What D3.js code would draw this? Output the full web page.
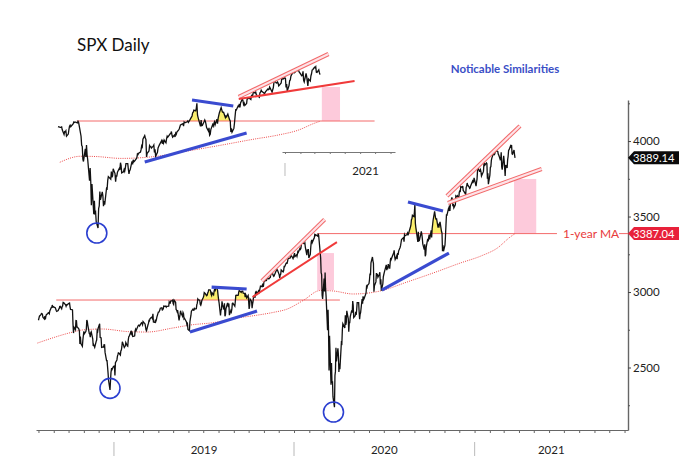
<!DOCTYPE html>
<html><head><meta charset="utf-8">
<script src="https://cdn.jsdelivr.net/npm/d3@7"></script>
<style>body{margin:0;background:#fff}svg{display:block;font-family:Lato,"Liberation Sans",sans-serif}</style>
</head><body><svg id="c" width="680" height="471"></svg>
<script>
// ---------------- DATA ----------------
const holidays = ["2018-09-03","2018-11-22","2018-12-05","2018-12-25","2019-01-01","2019-01-21","2019-02-18","2019-04-19","2019-05-27","2019-07-04","2019-09-02","2019-11-28","2019-12-25","2020-01-01","2020-01-20","2020-02-17","2020-04-10","2020-05-25","2020-07-03","2020-09-07","2020-11-26","2020-12-25","2021-01-01","2021-01-18","2021-02-15"];
const firstTradingDay = "2018-08-01";

// SPX daily closes (Aug 2018 .. Dec 2018)
const closes2018 = [
 2813,2827,2840,2850,2858,2857,2853,2833,2821,2840,2818,2840,2850,2857,2863,2861,2856,2875,2897,2898,2914,2901,2902,
 2896,2888,2878,2872,2877,2888,2889,2904,2905,2889,2904,2908,2931,2930,2919,2916,2906,2915,2914,
 2924,2923,2926,2902,2885,2884,2881,2786,2728,2767,2751,2810,2809,2768,2768,2755,2740,2656,2705,2659,2641,2682,2712,
 2740,2723,2738,2755,2814,2806,2781,2726,2722,2701,2730,2736,2690,2642,2650,2633,2673,2682,2744,2738,2760,
 2790,2700,2696,2633,2637,2636,2651,2650,2600,2546,2546,2507,2467,2417,2351,2468,2489,2486,2507];
const closes2019 = [
 2510,2448,2532,2550,2574,2585,2597,2596,2583,2610,2616,2636,2671,2633,2638,2642,2665,2644,2641,2681,2704,
 2707,2734,2724,2737,2731,2706,2708,2710,2744,2754,2745,2776,2780,2780,2775,2792,2796,2793,2784,
 2804,2792,2789,2771,2749,2743,2783,2792,2811,2809,2822,2833,2832,2825,2855,2801,2798,2818,2806,2815,2834,
 2867,2867,2873,2880,2893,2896,2878,2888,2888,2907,2905,2907,2900,2905,2907,2934,2927,2926,2940,2943,2946,
 2924,2918,2946,2932,2884,2880,2870,2881,2812,2834,2850,2876,2860,2840,2864,2856,2822,2826,2802,2783,2789,2752,
 2744,2803,2826,2843,2873,2886,2880,2879,2891,2887,2890,2917,2926,2954,2950,2945,2918,2913,2924,2942,
 2964,2973,2996,2990,2976,2979,2993,3000,3014,3014,3004,2985,2977,2995,2981,3005,3019,3004,3026,3021,3013,2980,
 2953,2932,2845,2882,2884,2938,2918,2883,2926,2840,2848,2889,2924,2924,2900,2923,2847,2878,2869,2887,2924,2926,
 2906,2937,2977,2979,2978,2979,3000,3010,3007,2998,3005,3006,3006,2992,2991,2966,2984,2977,2962,2977,
 2940,2888,2910,2953,2939,2893,2919,2938,2970,2966,2996,2990,2998,2986,3007,2996,3005,3023,3039,3036,3047,3037,3038,
 3067,3078,3075,3076,3085,3093,3087,3091,3094,3097,3120,3122,3120,3108,3104,3110,3134,3141,3153,3141,
 3114,3093,3113,3118,3146,3136,3133,3142,3169,3168,3191,3192,3191,3205,3221,3224,3224,3240,3240,3221,3231];
const closes2020 = [
 3258,3235,3246,3237,3253,3275,3266,3289,3283,3289,3317,3330,3321,3321,3326,3295,3244,3276,3273,3284,3226,
 3249,3298,3334,3345,3328,3352,3358,3379,3374,3380,3370,3386,3373,3338,3226,3128,3116,2979,2954,
 3090,3003,3130,3024,2972,2747,2882,2741,2481,2711,2386,2529,2398,2409,2305,2237,2447,2476,2630,2541,2627,2585,
 2471,2527,2489,2664,2659,2750,2790,2762,2846,2783,2800,2875,2823,2737,2799,2798,2837,2878,2863,2940,2912,
 2831,2843,2868,2848,2881,2930,2930,2870,2820,2853,2864,2954,2923,2972,2949,2955,2992,3036,3030,3044,
 3056,3081,3123,3112,3194,3232,3207,3190,3002,3041,3067,3125,3113,3115,3098,3118,3131,3050,3084,3009,3053,3100,
 3116,3130,3180,3145,3170,3152,3185,3155,3198,3227,3216,3225,3252,3257,3276,3236,3216,3239,3218,3258,3246,3271,
 3295,3307,3328,3349,3351,3360,3334,3380,3373,3373,3382,3390,3375,3386,3397,3431,3444,3479,3485,3508,3500,
 3527,3581,3455,3427,3332,3399,3339,3341,3384,3401,3385,3357,3319,3281,3316,3237,3247,3298,3352,3335,3363,
 3381,3348,3409,3361,3419,3447,3477,3534,3512,3489,3483,3484,3427,3443,3436,3453,3465,3401,3391,3271,3310,3270,
 3310,3369,3443,3510,3509,3551,3546,3573,3537,3585,3627,3610,3568,3582,3558,3578,3635,3630,3638,3622,
 3662,3669,3667,3699,3692,3702,3673,3668,3663,3647,3695,3701,3722,3709,3695,3687,3690,3703,3735,3727,3732,3756];
const closes2021 = [
 3701,3727,3748,3804,3825,3800,3801,3810,3796,3768,3799,3852,3853,3841,3855,3850,3751,3787,3714,
 3774,3826,3830,3872,3887,3916,3911,3910,3916,3935,3933,3931,3914,3907,3877,3881,3925,3829,3811,
 3902,3870,3820,3768,3842,3821,3875,3899,3939,3943,3969,3963,3974,3915,3913,3941,3911,3889.14];

// 1-year moving average
const maDates  = ["2018-07-30","2018-10-10","2018-10-28","2018-12-08","2019-02-02","2019-03-09","2019-05-01","2019-06-04","2019-07-29","2019-08-24","2019-10-15","2019-11-20","2019-12-18","2020-01-20","2020-02-23","2020-03-20","2020-04-30","2020-06-24","2020-08-17","2020-10-09","2020-12-03","2021-01-15","2021-02-16","2021-03-14","2021-03-24"];
const maValues = [2662,2735,2748,2755,2737,2735,2762,2781,2801,2820,2845,2865,2887,2945,3010,3007,2987,3007,3066,3126,3192,3240,3291,3364,3387.04];

const lastPrice = 3889.14;
const maLast = 3387.04;
const yTicksMajor = [2500, 3000, 3500, 4000];
const yTicksMinor = [2250, 2750, 3250, 3750, 4250];
const yearLabels = ["2019", "2020", "2021"];
const titleText = "SPX Daily";
const noteText = "Noticable Similarities";
const maLabel = "1-year MA";
const insetYear = "2021";

// annotations (data space: date, value)
const lowerHLines = [["2018-09-06", 2947, "2020-04-03", 2947], ["2020-02-17", 3387.04, "2021-06-17", 3387.04]];
const lowerBlue = [["2019-06-04", 2735, "2019-10-18", 2874], ["2019-07-18", 3033, "2019-09-27", 3020],
                   ["2020-06-27", 3013, "2020-11-10", 3258], ["2020-08-19", 3596, "2020-10-29", 3537]];
const lowerRedSolid = [["2019-10-09", 2967, "2020-03-28", 3331]];
const lowerRedDouble = [["2019-10-28", 3073, "2020-03-03", 3480], ["2020-11-06", 3636, "2021-04-03", 4100], ["2020-11-08", 3590, "2021-05-17", 3815]];
const lowerPink = [["2020-02-17", 3258, "2020-03-22", 3013], ["2021-03-22", 3749, "2021-05-06", 3387]];
const lowerCircles = [["2018-12-24", 2362], ["2020-03-21", 2205]];
const lowerYellow = [["2019-06-27", "2019-08-01", 2947], ["2019-09-01", "2019-09-30", 2947],
                     ["2020-08-19", "2020-09-16", 3387.04], ["2020-10-05", "2020-10-28", 3387.04]];

const upperStart = "2020-01-17";
const upperHLines = [["2020-02-17", 3390, "2021-06-22", 3390]];
const upperBlue = [["2020-06-08", 2948, "2020-11-23", 3261], ["2020-08-25", 3616, "2020-11-01", 3552]];
const upperRedSolid = [["2020-11-10", 3627, "2021-05-20", 3821]];
const upperRedDouble = [["2020-11-10", 3649, "2021-04-07", 4112]];
const upperPink = [["2021-03-27", 3756, "2021-04-26", 3390]];
const upperCircles = [["2020-03-21", 2183]];
const upperYellow = [["2020-08-19", "2020-09-16", 3390], ["2020-10-05", "2020-10-28", 3390]];

// ---------------- BUILD ----------------
const parse = d3.timeParse("%Y-%m-%d");
const fmt = d3.timeFormat("%Y-%m-%d");
const hol = new Set(holidays);
const allCloses = closes2018.concat(closes2019, closes2020, closes2021);
const series = [];
{
  let d = parse(firstTradingDay), i = 0;
  while (i < allCloses.length) {
    const wd = d.getDay();
    if (wd !== 0 && wd !== 6 && !hol.has(fmt(d))) { series.push({date: new Date(d), close: allCloses[i]}); i++; }
    d = d3.timeDay.offset(d, 1);
  }
}
const ma = maDates.map((d, i) => ({date: parse(d), v: maValues[i]}));

const svg = d3.select("#c");
const x = d3.scaleTime().domain([parse("2018-07-27"), parse("2021-11-08")]).range([36, 628]);
const y = d3.scaleLinear().domain([2086, 4272]).range([430, 100]);
const xU = d3.scaleTime().domain([parse("2020-01-17"), parse("2021-03-24")]).range([58, 320]);
const yU = d3.scaleLinear().domain([2237, 3390]).range([228, 121]);
const xF = d3.scaleTime().domain([parse("2020-12-26"), parse("2021-08-10")]).range([282, 395]);

const RED_THIN = "#f36a6a", RED = "#f03a3a", BLUE = "#3a4bd0", PINK = "#fdcadb", YEL = "#fbef6e";

function drawPane(g, xs, ys, data, maData, o) {
  o.pink.forEach(p => g.append("rect")
    .attr("x", xs(parse(p[0]))).attr("y", ys(p[1]))
    .attr("width", xs(parse(p[2])) - xs(parse(p[0]))).attr("height", ys(p[3]) - ys(p[1]))
    .attr("fill", PINK));
  o.yellow.forEach(r => {
    const a = parse(r[0]), b = parse(r[1]);
    const seg = data.filter(d => d.date >= a && d.date <= b);
    g.append("path").datum(seg).attr("fill", YEL)
      .attr("d", d3.area().x(d => xs(d.date)).y0(ys(r[2])).y1(d => ys(Math.max(d.close, r[2]))));
  });
  o.hlines.forEach(l => g.append("line")
    .attr("x1", xs(parse(l[0]))).attr("x2", xs(parse(l[2]))).attr("y1", ys(l[1])).attr("y2", ys(l[3]))
    .attr("stroke", RED_THIN).attr("stroke-width", 1));
  g.append("path").datum(maData).attr("fill", "none").attr("stroke", "#ee4a4a")
    .attr("stroke-width", 1).attr("stroke-dasharray", "1,1.2")
    .attr("d", d3.line().curve(d3.curveMonotoneX).x(d => xs(d.date)).y(d => ys(d.v)));
  g.append("path").datum(data).attr("fill", "none").attr("stroke", "#111").attr("stroke-width", 1.3)
    .attr("stroke-linejoin", "miter")
    .attr("d", d3.line().x(d => xs(d.date)).y(d => ys(d.close)));
  o.redDouble.forEach(l => {
    const dd = d3.line()([[xs(parse(l[0])), ys(l[1])], [xs(parse(l[2])), ys(l[3])]]);
    g.append("path").attr("d", dd).attr("stroke", "#f26a6a").attr("stroke-width", 4.2).attr("fill", "none");
    g.append("path").attr("d", dd).attr("stroke", "#fde3e8").attr("stroke-width", 2.2).attr("fill", "none");
  });
  o.redSolid.forEach(l => g.append("line")
    .attr("x1", xs(parse(l[0]))).attr("y1", ys(l[1])).attr("x2", xs(parse(l[2]))).attr("y2", ys(l[3]))
    .attr("stroke", RED).attr("stroke-width", 2));
  o.blue.forEach(l => g.append("line")
    .attr("x1", xs(parse(l[0]))).attr("y1", ys(l[1])).attr("x2", xs(parse(l[2]))).attr("y2", ys(l[3]))
    .attr("stroke", BLUE).attr("stroke-width", 3.2).attr("stroke-linecap", "butt"));
  o.circles.forEach(c => g.append("circle")
    .attr("cx", xs(parse(c[0]))).attr("cy", ys(c[1])).attr("r", 10)
    .attr("fill", "none").attr("stroke", "#2b3fd0").attr("stroke-width", 1.6));
}

const gL = svg.append("g");
drawPane(gL, x, y, series, ma, {pink: lowerPink, yellow: lowerYellow, hlines: lowerHLines,
  redDouble: lowerRedDouble, redSolid: lowerRedSolid, blue: lowerBlue, circles: lowerCircles});

const uStart = parse(upperStart);
const gU = svg.append("g");
drawPane(gU, xU, yU, series.filter(d => d.date >= uStart), ma.filter(d => d.date >= uStart), {
  pink: upperPink, yellow: upperYellow, hlines: upperHLines, redDouble: upperRedDouble,
  redSolid: upperRedSolid, blue: upperBlue, circles: upperCircles});

const fragAxis = svg.append("g").attr("transform", "translate(0,152)")
  .call(d3.axisBottom(xF).ticks(d3.timeMonth.every(1)).tickSize(2).tickSizeOuter(0).tickFormat(""));
fragAxis.select(".domain").attr("stroke", "#777");
fragAxis.selectAll(".tick line").attr("stroke", "#777");
const y2021 = parse("2021-01-01");
svg.append("line").attr("x1", xF(y2021)).attr("x2", xF(y2021)).attr("y1", 163).attr("y2", 176)
  .attr("stroke", "#bbb").attr("stroke-width", 1);
svg.append("text").attr("x", xF(parse("2021-06-12"))).attr("y", 175).attr("text-anchor", "middle")
  .attr("font-size", 11.5).attr("fill", "#222").text(insetYear);

const xAxis = svg.append("g").attr("transform", "translate(0,430)")
  .call(d3.axisBottom(x).ticks(d3.timeMonth.every(1)).tickSize(3).tickSizeOuter(0).tickFormat(""));
xAxis.select(".domain").attr("stroke", "#666").attr("stroke-width", 1.2);
xAxis.selectAll(".tick line").attr("stroke", "#666");
yearLabels.forEach(yr => {
  const s = parse(yr + "-01-01"), e = parse((+yr + 1) + "-01-01");
  const end = Math.min(x(e), x.range()[1]);
  svg.append("line").attr("x1", x(s)).attr("x2", x(s)).attr("y1", 442).attr("y2", 456)
    .attr("stroke", "#c4c4c4").attr("stroke-width", 1.2);
  svg.append("text").attr("x", (x(s) + end) / 2).attr("y", 454).attr("text-anchor", "middle")
    .attr("font-size", 11.5).attr("fill", "#222").text(yr);
});

const yAxis = svg.append("g").attr("transform", "translate(628,0)")
  .call(d3.axisRight(y).tickValues(yTicksMajor).tickSize(3).tickPadding(2).tickSizeOuter(0).tickFormat(d3.format("d")));
yAxis.select(".domain").attr("stroke", "#666").attr("stroke-width", 1.4);
yAxis.selectAll(".tick line").attr("stroke", "#444");
yAxis.selectAll(".tick text").attr("font-size", 11.5).attr("fill", "#222").attr("font-family", "Lato,sans-serif");
const yMinor = svg.append("g").attr("transform", "translate(628,0)")
  .call(d3.axisRight(y).tickValues(yTicksMinor).tickSize(2).tickFormat(""));
yMinor.select(".domain").remove();
yMinor.selectAll(".tick line").attr("stroke", "#555");

function tag(val, color) {
  const yy = y(val), x0 = 628;
  svg.append("path").attr("fill", color)
    .attr("d", `M${x0},${yy} L${x0 + 6},${yy - 6.5} L${x0 + 51},${yy - 6.5} L${x0 + 51},${yy + 6.5} L${x0 + 6},${yy + 6.5} Z`);
  svg.append("text").attr("x", x0 + 5).attr("y", yy + 4).attr("font-size", 11.2).attr("fill", "#fff")
    .text(d3.format(".2f")(val));
}
tag(lastPrice, "#0a0a0a");
tag(maLast, "#e8213a");

const maLineEnd = x(parse(lowerHLines[1][2]));
svg.append("text").attr("x", maLineEnd + 6).attr("y", y(maLast) + 4).attr("font-size", 12)
  .attr("fill", "#e83b3b").text(maLabel);
svg.append("line").attr("x1", 619).attr("x2", 628).attr("y1", y(maLast)).attr("y2", y(maLast))
  .attr("stroke", RED_THIN);

svg.append("text").attr("x", 77).attr("y", 51).attr("font-size", 17).attr("fill", "#111").text(titleText);
svg.append("text").attr("x", 505).attr("y", 73).attr("text-anchor", "middle").attr("font-size", 11.5)
  .attr("font-weight", "bold").attr("fill", "#3a4ec6").text(noteText);
</script></body></html>
